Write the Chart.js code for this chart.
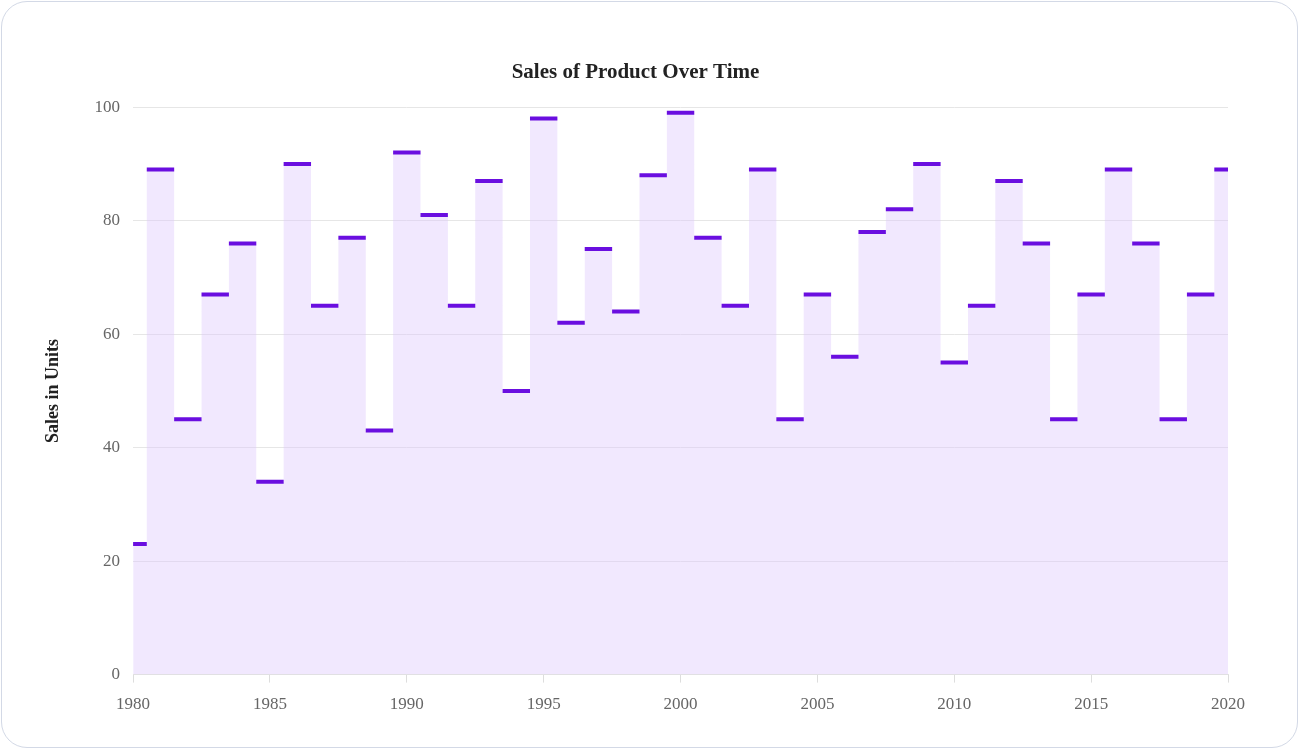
<!DOCTYPE html>
<html>
<head>
<meta charset="utf-8">
<script src="https://cdn.jsdelivr.net/npm/chart.js@4"></script>
<style>
    html, body { margin: 0; padding: 0; background: #fff; }
    .card {
        position: absolute;
        left: 1px; top: 1px;
        width: 1297px; height: 747px;
        border: 1.5px solid #d3d9e6;
        border-radius: 26px;
        box-sizing: border-box;
        background: #fff;
    }
    .wrap {
        position: absolute;
        left: 12px; top: 48px; right: 40px; bottom: 20px;
    }
</style>
</head>
<body>
<div class="card">
    <div class="wrap"><canvas id="myChart"></canvas></div>
</div>
<script>
const years = [];
for (let y = 1980; y <= 2020; y++) years.push(y);

const sales = [
    23, 89, 45, 67, 76, 34, 90, 65, 77, 43,
    92, 81, 65, 87, 50, 98, 62, 75, 64, 88,
    99, 77, 65, 89, 45, 67, 56, 78, 82, 90,
    55, 65, 87, 76, 45, 67, 89, 76, 45, 67,
    89,
];

const yTicks = [0, 20, 40, 60, 80, 100];
const xTicks = [1980, 1985, 1990, 1995, 2000, 2005, 2010, 2015, 2020];

const points = years.map((y, i) => ({ x: y, y: sales[i] }));

const serif = "'Liberation Serif', 'Times New Roman', serif";

new Chart(document.getElementById("myChart"), {
    type: "line",
    data: {
        datasets: [
            {
                label: "Sales",
                data: points,
                stepped: "middle",
                fill: true,
                backgroundColor: "rgba(221, 198, 253, 0.4)",
                borderWidth: 0,
                borderColor: "rgba(0,0,0,0)",
                pointStyle: "line",
                pointRadius: 13.7,
                pointHoverRadius: 13.7,
                pointBorderWidth: 4,
                pointBorderColor: "#6a0ee0",
                pointBackgroundColor: "#6a0ee0",
            },
        ],
    },
    options: {
        responsive: true,
        maintainAspectRatio: false,
        animation: false,
        scales: {
            x: {
                type: "linear",
                min: 1980,
                max: 2020,
                afterBuildTicks: (axis) => {
                    axis.ticks = xTicks.map((v) => ({ value: v }));
                },
                ticks: {
                    color: "#666",
                    font: { family: serif, size: 17 },
                    callback: (v) => String(v),
                    maxRotation: 0,
                    padding: 12,
                },
                grid: {
                    drawOnChartArea: false,
                    drawTicks: true,
                    tickLength: 8,
                    color: "#ddd",
                },
                border: { color: "#e2e2e2" },
            },
            y: {
                min: 0,
                max: 100,
                afterBuildTicks: (axis) => {
                    axis.ticks = yTicks.map((v) => ({ value: v }));
                },
                ticks: {
                    color: "#666",
                    font: { family: serif, size: 17 },
                    padding: 13,
                },
                grid: {
                    color: "#e6e6e6",
                    drawTicks: false,
                },
                border: { display: false },
                title: {
                    display: true,
                    text: "Sales in Units",
                    color: "#222",
                    font: { family: serif, size: 18, weight: "bold" },
                    padding: { top: 29, bottom: 17 },
                },
            },
        },
        plugins: {
            legend: { display: false },
            tooltip: { enabled: false },
            title: {
                display: true,
                text: "Sales of Product Over Time",
                color: "#222",
                font: { family: serif, size: 21, weight: "bold" },
                padding: { top: 10, bottom: 22 },
            },
        },
    },
});
</script>
</body>
</html>
